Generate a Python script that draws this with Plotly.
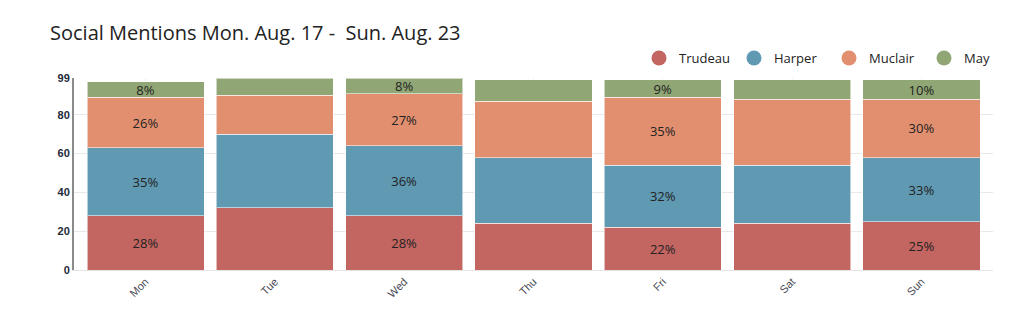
import plotly.graph_objects as go

days = ["Mon", "Tue", "Wed", "Thu", "Fri", "Sat", "Sun"]
trudeau = [28, 32, 28, 24, 22, 24, 25]
harper = [35, 38, 36, 34, 32, 30, 33]
muclair = [26, 20, 27, 29, 35, 34, 30]
may = [8, 9, 8, 11, 9, 10, 10]
labelled = [True, False, True, False, True, False, True]
y_ticks = [0, 20, 40, 60, 80, 99]

series = [
    ("Trudeau", trudeau, "#c36561"),
    ("Harper", harper, "#5f99b2"),
    ("Muclair", muclair, "#e28f70"),
    ("May", may, "#90a775"),
]

fig = go.Figure()
for name, vals, color in series:
    texts = [f"{v}%" if show else "" for v, show in zip(vals, labelled)]
    fig.add_trace(go.Bar(
        x=days, y=vals, name=name, text=texts, textposition="inside",
        insidetextanchor="middle", textangle=0,
        textfont=dict(family="Open Sans", size=13, color="#222222"),
        marker=dict(color=color, line=dict(color="rgba(255,255,255,0.55)", width=1)),
        showlegend=False, hoverinfo="x+y+name",
    ))
for name, vals, color in series:
    fig.add_trace(go.Scatter(
        x=[None], y=[None], mode="markers", name=name,
        marker=dict(color=color, size=15, symbol="circle"),
        showlegend=True,
    ))

fig.update_layout(
    barmode="stack",
    bargap=0.095,
    width=1030, height=330,
    margin=dict(l=74, r=37, t=78, b=60, autoexpand=False),
    uniformtext=dict(minsize=13, mode="show"),
    paper_bgcolor="white", plot_bgcolor="white",
    title=dict(text="Social Mentions Mon. Aug. 17 - \u00a0Sun. Aug. 23",
               x=50 / 1030, xanchor="left", y=1 - 33 / 330, yanchor="middle",
               font=dict(family="Open Sans", size=20, color="#222222")),
    legend=dict(orientation="h", traceorder="normal",
                x=639 / 1030, xref="container", xanchor="left",
                y=1 - 58 / 330, yref="container", yanchor="middle",
                entrywidth=50, entrywidthmode="pixels",
                font=dict(family="Open Sans", size=13, color="#222222"),
                bgcolor="rgba(0,0,0,0)", itemclick=False),
    xaxis=dict(range=[-0.553, 6.553], tickangle=-45,
               tickfont=dict(family="Liberation Sans, Arial", size=11, color="#4a4a55"),
               showgrid=True, gridcolor="#efefef", showline=True,
               linecolor="#e4e4e4", linewidth=1, ticks="", fixedrange=True),
    yaxis=dict(range=[0, 99], tickvals=y_ticks, ticktext=[str(t) for t in y_ticks],
               tickfont=dict(family="Liberation Sans, Arial", size=11, color="#1e2a3a",
                             weight="bold"),
               showgrid=True, gridcolor="#e8e8e8", showline=True,
               linecolor="#8a8a8a", linewidth=2, zeroline=False, ticks=""),
)

fig.write_html("out.html")
